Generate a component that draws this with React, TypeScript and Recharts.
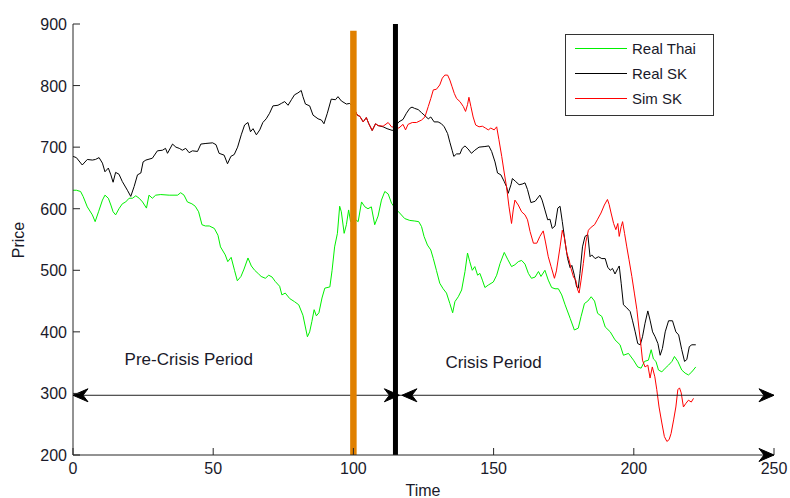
import React from 'react';
import { LineChart, Line, XAxis, YAxis, ReferenceLine, ReferenceDot, Legend } from 'recharts';

const xTicks = [0, 50, 100, 150, 200, 250];
const yTicks = [200, 300, 400, 500, 600, 700, 800, 900];

const realThai: [number, number][] = [
  [0, 630], [1.2, 630], [2.7, 628], [3.6, 620], [5.1, 603], [6.9, 590], [7.9, 579], [9.1, 595], [10.5, 614], [11.4, 622],
  [12.6, 617], [13.5, 606], [14.3, 595], [15.2, 590], [16.4, 600], [17.6, 608], [18.8, 611], [20, 617], [21.2, 617], [22.4, 621],
  [23.6, 617], [24.8, 611], [26.2, 601], [27.1, 622], [28.3, 617], [29.5, 622], [31.3, 623], [34.3, 622], [37.3, 622], [38.4, 626],
  [39.6, 622], [40.8, 611], [42.4, 608], [43.6, 604], [44.8, 595], [46, 574], [47.2, 572], [48.6, 572], [50.4, 568], [51.7, 557],
  [52.6, 538], [54.3, 525], [55.2, 514], [56.4, 521], [57.6, 500], [58.6, 483], [59.9, 490], [61, 502], [62.4, 520], [63.6, 507],
  [64.8, 500], [66.2, 494], [67.1, 490], [68.6, 487], [69.8, 492], [71, 489], [72.1, 482], [73.7, 474], [74.5, 460], [75.7, 463],
  [77.3, 454], [79, 449], [80.5, 444], [82, 427], [83.6, 392], [84.4, 400], [85.2, 417], [86, 436], [86.8, 426], [87.7, 431],
  [88.8, 455], [89.8, 471], [91.6, 473], [92.4, 500], [93.3, 538], [94.3, 560], [95.1, 604], [95.7, 595], [96.7, 560], [97.5, 574],
  [98.3, 598], [99, 579], [100, 585], [101.7, 579], [102.9, 611], [104.1, 603], [105.2, 600], [106.4, 603], [107.6, 574], [108.8, 588],
  [110, 614], [111.2, 628], [112.4, 624], [113.6, 609], [115, 600], [116.5, 593], [118.3, 584], [120.1, 581], [121.9, 580], [123.3, 579],
  [124.3, 571], [125.2, 555], [126.4, 541], [127.6, 533], [128.5, 519], [129.6, 500], [130.8, 479], [132, 470], [133.2, 463], [134.4, 446],
  [135.4, 431], [136.2, 449], [137.4, 457], [138.6, 468], [139.8, 498], [140.7, 528], [141.5, 514], [142.4, 500], [143.3, 506], [144.3, 492],
  [145.1, 495], [146, 484], [146.9, 472], [148.1, 476], [149.9, 481], [151.1, 492], [152.3, 511], [153.8, 529], [155, 518], [156.4, 506],
  [157.6, 509], [158.8, 514], [160, 516], [161.2, 510], [162.4, 495], [163.5, 487], [164.8, 489], [166, 498], [166.9, 490], [168.3, 500],
  [169.5, 484], [170.7, 472], [171.9, 470], [173.1, 470], [174.3, 460], [175.5, 444], [177.3, 422], [178.8, 403], [180.2, 406], [181.2, 425],
  [182.4, 446], [183.6, 450], [184.8, 457], [186, 450], [187.1, 430], [188.6, 425], [189.8, 408], [191.6, 400], [193.3, 387], [195.1, 379],
  [196.3, 362], [198.1, 365], [199.9, 354], [201.4, 343], [202.6, 341], [203.8, 352], [205.2, 354], [206.2, 371], [207, 356], [207.9, 352],
  [208.8, 338], [210, 335], [211.2, 341], [212.4, 346], [213.6, 352], [214.5, 360], [215.7, 352], [217.1, 338], [218.3, 333], [219.5, 330],
  [220.7, 335], [222.1, 343],
];

const realSK: [number, number][] = [
  [0, 685], [1.2, 683], [3.3, 671], [5.1, 680], [6.9, 679], [8, 680], [9.3, 683], [10.5, 674], [11.4, 660], [12.6, 666],
  [13.5, 655], [14.3, 643], [15.2, 659], [16.4, 656], [17.6, 644], [19.4, 630], [20.6, 620], [21.8, 636], [23, 655], [24.2, 658],
  [25, 676], [26, 679], [28.3, 682], [30.1, 694], [31.9, 695], [33, 698], [33.7, 690], [35.5, 705], [36.7, 700], [37.9, 698],
  [39, 695], [40.2, 698], [41.4, 691], [42.6, 694], [44.4, 693], [45.6, 705], [47.4, 706], [49.8, 707], [51, 704], [52.1, 690],
  [53.9, 687], [55.1, 673], [56.3, 685], [57.5, 688], [58.7, 700], [60, 720], [61.2, 736], [62.4, 740], [63.3, 725], [64.2, 730],
  [65.4, 720], [66.6, 728], [67.7, 740], [68.9, 746], [70.1, 755], [71.3, 767], [73.1, 768], [74.3, 771], [75.5, 774], [76.7, 768],
  [77.9, 777], [79, 785], [80.2, 788], [81.4, 792], [82, 782], [82.9, 770], [84.4, 767], [85.6, 752], [87.4, 746], [88.6, 744],
  [89.5, 738], [90.7, 755], [92.1, 778], [93.6, 777], [94.5, 782], [95.7, 775], [97.5, 770], [98.7, 771], [99.3, 768], [100, 765],
  [101.4, 752], [102.3, 750], [103.5, 741], [104.6, 748], [105.5, 738], [106.7, 727], [107.9, 738], [108.8, 735], [110.6, 733],
  [112, 730], [114, 727], [115.2, 735], [116.2, 741], [117.7, 745],
  [118.9, 755], [120.1, 763], [120.9, 765], [121.8, 763], [123.1, 761], [124.3, 756], [125.5, 751], [126.7, 746], [127.6, 749], [128.8, 741],
  [130.2, 741], [131.4, 738], [132.4, 733], [133.6, 722], [134.4, 708], [135.2, 695], [135.8, 685], [136.8, 689], [138, 689], [138.8, 698],
  [139.8, 702], [140.9, 697], [142.1, 690], [143.3, 695], [144.8, 700], [146.9, 701], [148.3, 702], [149.3, 693], [150.5, 676], [151.4, 658],
  [152.6, 655], [153.8, 644], [154.6, 636], [155.2, 625], [156.2, 639], [156.7, 649], [157.9, 644], [159.1, 639], [160.2, 640], [161.2, 642],
  [162.1, 631], [163.3, 610], [164.8, 612], [166.5, 622], [167.3, 614], [168.3, 598], [169.3, 582], [170.1, 583], [170.9, 568], [171.9, 572],
  [172.9, 601], [173.7, 604], [174.5, 579], [175.5, 546], [176.4, 519], [177.3, 504], [177.9, 508], [178.8, 492], [179.6, 473], [180.2, 471],
  [180.8, 495], [181.7, 538], [182.6, 555], [183.6, 558], [184.4, 522], [185, 525], [186.2, 519], [187.4, 522], [188.6, 519], [189.8, 519],
  [190.7, 505], [191.6, 500], [192.4, 503], [193.3, 494], [194.3, 503], [194.8, 507], [195.5, 479], [196.3, 444], [197.5, 439], [198.7, 433],
  [199.5, 419], [200.5, 400], [201.4, 381], [202.3, 379], [203.1, 392], [204, 414], [205, 434], [205.8, 419], [206.7, 400], [207.6, 392],
  [208.6, 381], [209.4, 362], [210.2, 373], [211.2, 400], [212.4, 418], [213.8, 418], [215, 400], [216, 395], [217.1, 371], [218.1, 352],
  [218.9, 355], [219.8, 376], [220.7, 379], [222.1, 379],
];

const simSK: [number, number][] = [
  [100, 765], [101.4, 752], [102.3, 750], [103.5, 741], [104.6, 748], [105.5, 738], [106.7, 727], [107.9, 738], [108.8, 735], [110.6, 734],
  [112.4, 740], [113.6, 733], [116.2, 731], [117.7, 737], [118.6, 728], [119.5, 737], [121, 740], [122.5, 740], [124.3, 744], [125.5, 749],
  [126.7, 766], [127.6, 779], [128.5, 793], [129.6, 794], [130.8, 801], [131.7, 812], [132.6, 817], [133.6, 817], [134.4, 809], [135.2, 798],
  [136, 787], [136.8, 779], [138, 774], [139.2, 766], [140, 758], [140.7, 769], [141.2, 781], [141.9, 766], [142.7, 749], [143.6, 736],
  [144.8, 733], [146, 734], [147.1, 731], [148.1, 728], [149, 731], [150.2, 728], [151.1, 733], [151.9, 712], [152.9, 685], [153.8, 658],
  [154.6, 636], [155.5, 603], [156.4, 576], [157, 598], [157.6, 614], [158.8, 606], [160, 595], [161.2, 590], [162.1, 582], [163, 563],
  [164.2, 544], [165.4, 544], [166.5, 555], [167.7, 564], [168.5, 546], [169.5, 522], [170.5, 506], [171.7, 487], [172.4, 499], [173.7, 538],
  [174.5, 565], [175.2, 554], [176.1, 528], [176.9, 517], [177.6, 503], [178.5, 489], [179.3, 484], [180, 468], [180.5, 463], [181.2, 484],
  [182, 511], [182.9, 546], [183.8, 565], [184.8, 570], [186, 574], [187.1, 583], [188.3, 593], [189.5, 606], [190.6, 615], [191.2, 607],
  [191.9, 593], [192.8, 576], [193.6, 566], [194.3, 576], [194.8, 555], [195.5, 571], [196, 579], [196.7, 560], [197.5, 538], [198.3, 517],
  [199.3, 490], [200.2, 463], [201.1, 436], [201.9, 403], [202.6, 376], [203.1, 354], [204, 343], [205, 346], [205.8, 325], [206.6, 343],
  [207.5, 327], [208.2, 306], [209, 278], [210, 252], [210.9, 230], [211.8, 222], [212.6, 225], [213.3, 235], [214.2, 257], [215, 278],
  [215.7, 306], [216.3, 309], [216.9, 301], [217.7, 278], [218.6, 284], [219.5, 289], [220.5, 286], [221.3, 292],
];

const seriesNames = ['Real Thai', 'Real SK', 'Sim SK'];
const seriesColors = ['#00f000', '#000000', '#ff0000'];

const orangeBarTime = 100;
const orangeBarTop = 889;
const crisisBarTime = 115;
const arrowLevel = 297;
const preArrowEnd = 116.4;
const crisisArrowStart = 117.3;
const periodLabels = [
  { text: 'Pre-Crisis Period', t: 41.3, v: 355 },
  { text: 'Crisis Period', t: 150, v: 350 },
];

const toPts = (arr: [number, number][]) => arr.map(([t, v]) => ({ t, v }));

const FONT = '"Liberation Sans", Arial, Helvetica, sans-serif';
const TXT = '#1a1a2a';
const AX = '#262626';

const BottomTick = (p: any) => (
  <g>
    <line x1={p.x} y1={p.y} x2={p.x} y2={p.y - 7} stroke={AX} />
    <text x={p.x} y={p.y + 19} textAnchor="middle" fontSize={16} fontFamily={FONT} fill={TXT}>
      {p.payload.value}
    </text>
  </g>
);
const TopTick = (p: any) => <line x1={p.x} y1={p.y} x2={p.x} y2={p.y + 7} stroke={AX} />;
const LeftTick = (p: any) => (
  <g>
    <line x1={p.x} y1={p.y} x2={p.x + 7} y2={p.y} stroke={AX} />
    <text x={p.x - 6} y={p.y + 6} textAnchor="end" fontSize={16} fontFamily={FONT} fill={TXT}>
      {p.payload.value}
    </text>
  </g>
);
const RightTick = (p: any) => <line x1={p.x} y1={p.y} x2={p.x - 7} y2={p.y} stroke={AX} />;

const arrowHead = (dir: number) => (p: any) => {
  const { cx, cy } = p;
  const d = `M${cx},${cy} L${cx - dir * 15},${cy - 6.5} L${cx - dir * 10},${cy} L${cx - dir * 15},${cy + 6.5} Z`;
  return <path d={d} fill="#000" stroke="#000" strokeWidth={1} />;
};

const textShape = (txt: string) => (p: any) => (
  <text x={p.cx} y={p.cy} textAnchor="middle" dominantBaseline="central" fontSize={17} fontFamily={FONT} fill={TXT}>
    {txt}
  </text>
);

const LegendBox = () => (
  <svg width={149} height={82} style={{ display: 'block' }}>
    <rect x={0.5} y={0.5} width={148} height={81} fill="#fff" stroke="#333" />
    {seriesNames.map((n, i) => (
      <g key={n}>
        <line x1={10} x2={62} y1={14.5 + i * 25} y2={14.5 + i * 25} stroke={seriesColors[i]} strokeWidth={1} />
        <text x={67} y={20 + i * 25} fontSize={15} fontFamily={FONT} fill={TXT}>
          {n}
        </text>
      </g>
    ))}
  </svg>
);

export default function App() {
  return (
    <div style={{ position: 'absolute', left: 0, top: 0, width: 790, height: 498, background: '#fff' }}>
      <LineChart width={790} height={498} margin={{ top: 24, right: 16, left: 0, bottom: 0 }}>
        <XAxis
          xAxisId={0}
          dataKey="t"
          type="number"
          domain={[0, 250]}
          ticks={xTicks}
          height={43}
          tickSize={0}
          tickMargin={0}
          tickLine={false}
          tick={BottomTick}
          stroke={AX}
          interval={0}
          label={{
            content: (lp: any) => (
              <text x={423} y={496} textAnchor="middle" fontSize={16} fontFamily={FONT} fill={TXT}>
                Time
              </text>
            ),
          }}
        />
        <XAxis
          xAxisId="top"
          orientation="top"
          dataKey="t"
          type="number"
          domain={[0, 250]}
          ticks={xTicks}
          height={0}
          tickSize={0}
          tickMargin={0}
          tickLine={false}
          tick={TopTick}
          stroke={AX}
          interval={0}
        />
        <YAxis
          yAxisId={0}
          type="number"
          domain={[200, 900]}
          ticks={yTicks}
          width={73}
          tickSize={0}
          tickMargin={0}
          tickLine={false}
          tick={LeftTick}
          stroke={AX}
          interval={0}
          label={{
            content: (lp: any) => (
              <text
                x={24}
                y={240}
                transform="rotate(-90 24 240)"
                textAnchor="middle"
                fontSize={16}
                fontFamily={FONT}
                fill={TXT}
              >
                Price
              </text>
            ),
          }}
        />
        <YAxis
          yAxisId="right"
          orientation="right"
          type="number"
          domain={[200, 900]}
          ticks={yTicks}
          width={0}
          tickSize={0}
          tickMargin={0}
          tickLine={false}
          tick={RightTick}
          stroke={AX}
          interval={0}
        />
        <Legend
          layout="vertical"
          align="center"
          verticalAlign="middle"
          content={() => <LegendBox />}
          wrapperStyle={{ left: 565, top: 34, width: 149, height: 82 }}
        />
        <Line data={toPts(realThai)} dataKey="v" name={seriesNames[0]} stroke={seriesColors[0]} strokeWidth={1} dot={false} activeDot={false} isAnimationActive={false} type="linear" />
        <Line data={toPts(realSK)} dataKey="v" name={seriesNames[1]} stroke={seriesColors[1]} strokeWidth={1} dot={false} activeDot={false} isAnimationActive={false} type="linear" />
        <Line data={toPts(simSK)} dataKey="v" name={seriesNames[2]} stroke={seriesColors[2]} strokeWidth={1} dot={false} activeDot={false} isAnimationActive={false} type="linear" />
        <ReferenceLine y={arrowLevel} stroke="#222" strokeWidth={1} />
        <ReferenceLine
          segment={[
            { x: orangeBarTime, y: 200 },
            { x: orangeBarTime, y: orangeBarTop },
          ]}
          stroke="#e08000"
          strokeWidth={6.5}
        />
        <ReferenceLine x={crisisBarTime} stroke="#000" strokeWidth={5} />
        <ReferenceDot x={0} y={arrowLevel} r={1} shape={arrowHead(-1)} />
        <ReferenceDot x={preArrowEnd} y={arrowLevel} r={1} shape={arrowHead(1)} />
        <ReferenceDot x={crisisArrowStart} y={arrowLevel} r={1} shape={arrowHead(-1)} />
        <ReferenceDot x={250} y={arrowLevel} r={1} shape={arrowHead(1)} />
        <ReferenceDot x={250} y={200} r={1} shape={arrowHead(1)} />
        {periodLabels.map((l) => (
          <ReferenceDot key={l.text} x={l.t} y={l.v} r={1} shape={textShape(l.text)} />
        ))}
      </LineChart>
    </div>
  );
}
